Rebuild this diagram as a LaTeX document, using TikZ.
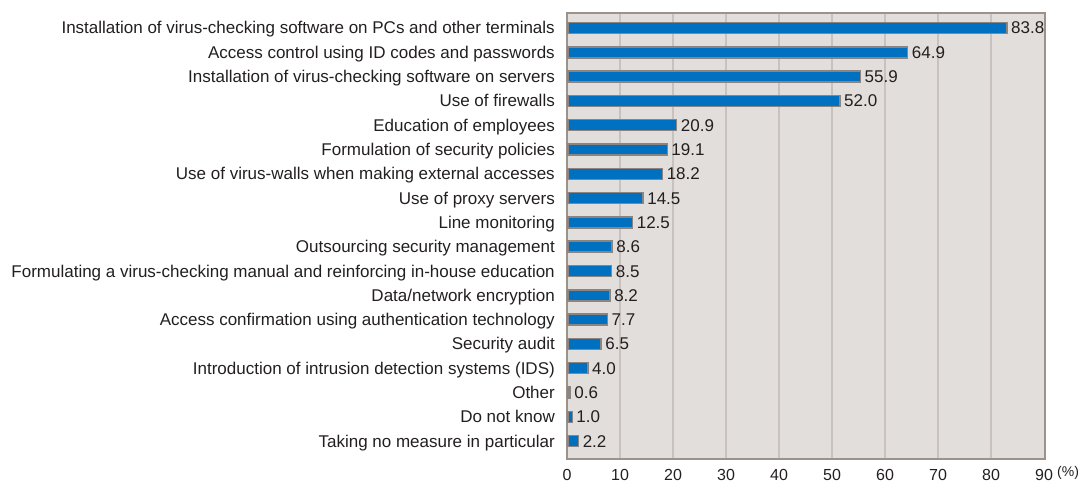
\documentclass[tikz,border=0pt]{standalone}
\usepackage{fontspec}
\setmainfont{Liberation Sans}
\definecolor{plotbg}{HTML}{E2DEDC}
\definecolor{gridgray}{HTML}{C8C1BD}
\definecolor{framegray}{HTML}{9C928C}
\definecolor{barblue}{HTML}{0070C0}
\definecolor{bargray}{HTML}{8C8480}
\definecolor{txtgray}{HTML}{231F20}
\begin{document}
\begin{tikzpicture}[x=1pt,y=-1pt,
    itemlabel/.style={anchor=base east,inner sep=0pt,text=txtgray,font=\fontsize{17}{17}\selectfont},
    vallabel/.style={anchor=base west,inner sep=0pt,text=txtgray,font=\fontsize{17}{17}\selectfont},
    ticklabel/.style={anchor=base,inner sep=0pt,text=txtgray,font=\fontsize{16}{16}\selectfont},
    barbox/.style={fill=barblue,draw=bargray,line width=1.5pt},
    gridline/.style={gridgray,line width=1.5pt},
    frameline/.style={framegray,line width=2pt}]
  \useasboundingbox (0,0) rectangle (1081,484);
  % plot area
  \fill[plotbg] (567,13) rectangle (1045,459);
  \foreach \k in {1,...,8}
    \draw[gridline] ({567+53*\k},13) -- ({567+53*\k},459);
  \draw[frameline] (567,13) rectangle (1045,459);
  % bars
  \foreach \v/\t [count=\i from 0] in {
      83.8/Installation of virus-checking software on PCs and other terminals,
      64.9/Access control using ID codes and passwords,
      55.9/Installation of virus-checking software on servers,
      52.0/Use of firewalls,
      20.9/Education of employees,
      19.1/Formulation of security policies,
      18.2/Use of virus-walls when making external accesses,
      14.5/Use of proxy servers,
      12.5/Line monitoring,
      8.6/Outsourcing security management,
      8.5/Formulating a virus-checking manual and reinforcing in-house education,
      8.2/{Data/network encryption},
      7.7/Access confirmation using authentication technology,
      6.5/Security audit,
      4.0/Introduction of intrusion detection systems (IDS),
      0.6/Other,
      1.0/Do not know,
      2.2/Taking no measure in particular}{
    \node[itemlabel] (item\i) at (555,{34+24.3*\i}) {\t};
    \draw[barbox] (568,{22.5+24.3*\i}) rectangle ({567+5.25*\v},{33.5+24.3*\i});
    \node[vallabel] (val\i) at ({571+5.25*\v},{34+24.3*\i}) {\v};
  }
  % axis
  \foreach \k in {0,...,9}
    \node[ticklabel] (tick\k) at ({567+53*\k},480.5) {\number\numexpr10*\k\relax};
  \node[anchor=base west,inner sep=0pt,text=txtgray,font=\fontsize{14}{14}\selectfont]
    (unit) at (1057,476) {(\%)};
\end{tikzpicture}
\end{document}
